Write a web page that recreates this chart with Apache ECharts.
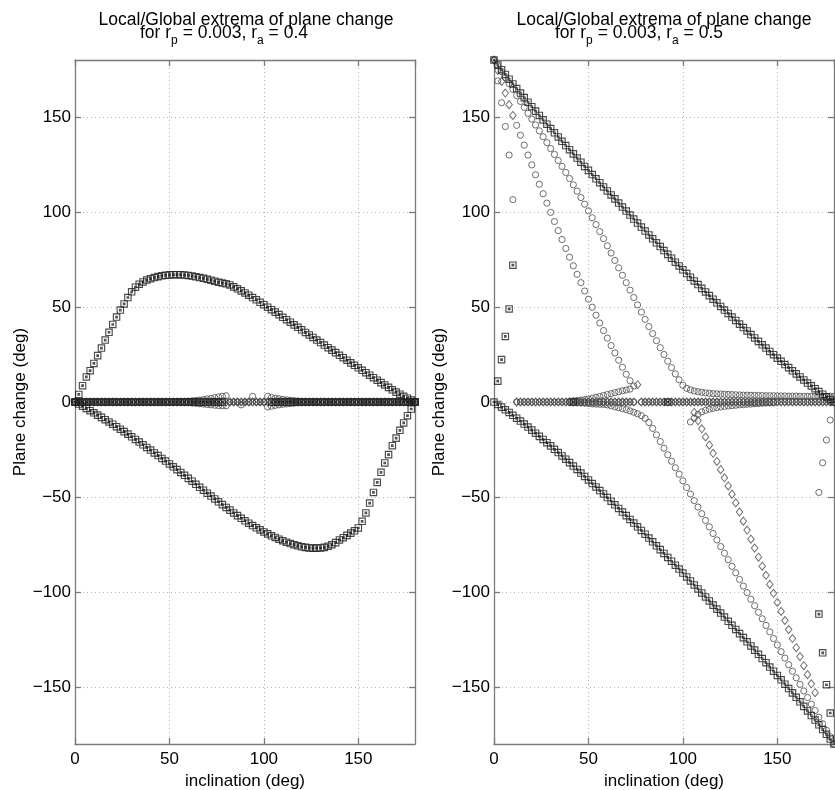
<!DOCTYPE html>
<html><head><meta charset="utf-8">
<script src="https://cdn.jsdelivr.net/npm/echarts@6/dist/echarts.min.js"></script>
<style>html,body{margin:0;padding:0;background:#fff}#c{width:835px;height:790px}</style>
</head><body><div id="c"></div>
<script>
// ---------- shared inclination grid (deg) ----------
const inclination = [0,2,4,6,8,10,12,14,16,18,20,22,24,26,28,30,32,34,36,38,40,42,44,46,48,50,52,54,56,58,60,62,64,66,68,70,72,74,76,78,80,82,84,86,88,90,92,94,96,98,100,102,104,106,108,110,112,114,116,118,120,122,124,126,128,130,132,134,136,138,140,142,144,146,148,150,152,154,156,158,160,162,164,166,168,170,172,174,176,178,180];

// ---------- left panel (r_a = 0.4) ----------
const leftGlobalMax = [0,4,8.6,13.2,16.5,20.3,24.4,28.4,32.6,36.7,40.8,44.7,48.4,51.6,55,58,60.4,62,63.2,64.2,64.9,65.5,66,66.4,66.7,66.9,67,67,67,66.8,66.6,66.3,65.9,65.5,65.1,64.6,64.1,63.6,63,62.6,62.2,61.6,60.6,59.6,58.5,57.4,56.2,55,53.8,52.5,51.2,49.9,48.6,47.3,46,44.6,43.3,42,40.6,39.3,38,36.6,35.3,34,32.6,31.3,30,28.6,27.3,26,24.6,23.3,22,20.6,19.3,18,16.7,15.4,14.1,12.8,11.5,10.2,9,7.7,6.4,5.2,4.1,3,2,1,0];
const leftGlobalMin = [0,-1.1,-2.2,-3.4,-4.6,-5.7,-6.9,-8.1,-9.3,-10.5,-11.7,-13,-14.3,-15.6,-16.9,-18.3,-19.7,-21.1,-22.5,-23.9,-25.3,-26.8,-28.2,-29.7,-31.1,-32.6,-34.1,-35.6,-37.1,-38.6,-40.2,-41.7,-43.3,-44.9,-46.4,-48,-49.5,-51,-52.5,-54,-55.5,-56.9,-58.4,-59.8,-61.2,-62.5,-63.8,-65,-66.2,-67.3,-68.4,-69.4,-70.4,-71.3,-72.2,-73,-73.8,-74.5,-75.1,-75.7,-76.2,-76.5,-76.8,-76.9,-76.9,-76.8,-76.5,-75.9,-75.1,-74,-72.6,-71.4,-70.2,-69,-67.8,-66.3,-62.8,-58.4,-53.2,-47.6,-42.3,-37,-32.1,-27.7,-23,-19,-14.9,-11,-7.2,-3.7,0];
const leftLocalUpper = [0,0,0,0,0,0,0,0,0,0, 0,0,0,0,0,0,0,0,0,0, 0,0,0,0,0,0,0,0,0,0.2, 0.4,0.6,0.8,1.0,1.3,1.6,1.9,2.3,2.7,3.0, 3.3,0,0,0,0,0,0,3.0,0,0, 0,3.0,2.4,2.0,1.7,1.4,1.1,0.9,0.7,0.5, 0.3,0.2,0,0,0,0,0,0,0,0, 0,0,0,0,0,0,0,0,0,0, 0,0,0,0,0,0,0,0,0,0,0];
const leftLocalLower = [0,0,0,0,0,0,0,0,0,0, 0,0,0,0,0,0,0,0,0,0, 0,0,0,0,0,0,0,0,0,-0.2, -0.3,-0.5,-0.7,-0.9,-1.1,-1.3,-1.5,-1.7,-1.9,-2.0, -2.0,0,0,0,-1.5,0,0,0,0,0, 0,-2.6,-2.2,-1.8,-1.5,-1.2,-1.0,-0.8,-0.6,-0.4, -0.3,-0.2,0,0,0,0,0,0,0,0, 0,0,0,0,0,0,0,0,0,0, 0,0,0,0,0,0,0,0,0,0,0];
const leftZeroSquareX = [0,2,4,6,8,10,12,14,16,18,20,22,24,26,28,30,32,34,36,38,40,42,44,46,48,50,52,54,56,58,60,62,64,66,68,70,72,74,76,78,104,106,108,110,112,114,116,118,120,122,124,126,128,130,132,134,136,138,140,142,144,146,148,150,152,154,156,158,160,162,164,166,168,170,172,174,176,178,180];
const zeroLevel = 0;

// ---------- right panel (r_a = 0.5) ----------
const rightGlobalMax = [180,177.4,174.9,172.4,169.9,167.4,165,162.6,160.2,157.8,155.4,153.1,150.8,148.5,146.2,143.9,141.7,139.5,137.2,135,132.8,130.6,128.4,126.2,124,121.9,119.7,117.5,115.4,113.2,111.1,109,106.9,104.7,102.6,100.5,98.4,96.3,94.2,92.1,90,87.9,85.9,83.8,81.8,79.7,77.7,75.7,73.6,71.6,69.6,67.6,65.7,63.7,61.8,59.8,57.9,56,54.1,52.2,50.3,48.4,46.6,44.7,42.9,41,39.2,37.4,35.5,33.7,31.9,30.1,28.4,26.6,24.9,23.1,21.4,19.7,18.1,16.4,14.8,13.2,11.6,10,8.5,7,5.5,4.1,2.7,1.3,0];
const rightGlobalMin = [0,-1.3,-2.7,-4.1,-5.5,-7,-8.5,-10,-11.6,-13.2,-14.8,-16.4,-18.1,-19.7,-21.4,-23.1,-24.9,-26.6,-28.4,-30.1,-31.9,-33.7,-35.5,-37.4,-39.2,-41,-42.9,-44.7,-46.6,-48.4,-50.3,-52.2,-54.1,-56,-57.9,-59.8,-61.8,-63.7,-65.7,-67.6,-69.6,-71.6,-73.6,-75.7,-77.7,-79.7,-81.8,-83.8,-85.9,-87.9,-90,-92.1,-94.2,-96.3,-98.4,-100.5,-102.6,-104.7,-106.9,-109,-111.1,-113.2,-115.4,-117.5,-119.7,-121.9,-124,-126.2,-128.4,-130.6,-132.8,-135,-137.2,-139.5,-141.7,-143.9,-146.2,-148.5,-150.8,-153.1,-155.4,-157.8,-160.2,-162.6,-165,-167.4,-169.9,-172.4,-174.9,-177.4,-180];
const rightLocalB = [180,177,173.9,170.8,167.6,164.5,161.3,158.2,155.1,152,148.9,145.8,142.7,139.6,136.5,133.4,130.3,127.1,124,120.8,117.6,114.3,111,107.6,104.1,100.6,97,93.4,89.7,86,82.2,78.4,74.5,70.6,66.7,62.8,58.9,55,51.1,47.3,43.5,39.7,36,32.3,28.6,25,21.5,18.1,14.8,11.7,8.8,7.2,6.4,5.8,5.4,5.1,4.8,4.6,4.4,4.3,4.2,4.1,4.0,3.9,3.8,3.7,3.6,3.6,3.5,3.5,3.4,3.4,3.3,3.3,3.3,3.2,3.2,3.2,3.1,3.1,3.1,3.0,3.0,3.0,3.0,3.0,3.0,3.0,3.0,3.0,3.0];
const rightLocalB2X = [40,42,44,46,48,50,52,54,56,58,60,62,64,66,68,70,72,74,76,78,80,82,84,86,88,90,92,94,96,98,100,102,104,106,108,110,112,114,116,118,120,122,124,126,128,130,132,134,136,138,140,142,144,146,148,150,152,154,156,158,160,162,164,166,168,170,172,174,176,178,180];
const rightLocalB2 = [-0.2,-0.3,-0.4,-0.5,-0.6,-0.8,-1.0,-1.1,-1.2,-1.3,-1.5,-2.0,-2.5,-3.0,-3.5,-4.0,-4.7,-5.4,-6.2,-7.2,-8.6,-10.8,-13.9,-17.3,-20.8,-24.3,-27.8,-31.2,-34.6,-38,-41.5,-45,-48.4,-51.9,-55.3,-58.8,-62.3,-65.7,-69.2,-72.6,-76.1,-79.6,-83,-86.5,-89.9,-93.4,-96.9,-100.3,-103.8,-107.2,-110.7,-114.1,-117.6,-121,-124.5,-127.9,-131.4,-134.8,-138.3,-141.7,-145.2,-148.6,-152.1,-155.5,-159,-162.4,-165.9,-169.3,-172.8,-176.2,-180];
const rightForkUpX = [40,42,44,46,48,50,52,54,56,58,60,62,64,66,68,70,72];
const rightForkUp = [0.4,0.6,0.8,1.0,1.3,1.6,2.0,2.4,2.9,3.4,3.9,4.4,4.9,5.4,5.9,6.3,6.8];
const rightForkLoX = [104,106,108,110,112,114,116,118,120,122,124,126,128,130,132,134,136,138,140,142,144,146,148];
const rightForkLo = [-10.5,-8.5,-6.5,-5.2,-4.4,-3.8,-3.3,-2.9,-2.6,-2.3,-2.1,-1.9,-1.7,-1.5,-1.4,-1.2,-1.1,-0.9,-0.8,-0.6,-0.5,-0.4,-0.3];
const rightCDiamX = [0,2,4,6,8,10,76];
const rightCDiam = [180,174.5,168.7,162.6,156.5,150.8,9.1];
const rightCCircX = [12,14,16,18,20,22,24,26,28,30,32,34,36,38,40,42,44,46,48,50,52,54,56,58,60,62,64,66,68,70,72,74];
const rightCCirc = [145.6,140.4,135.2,130,124.8,119.6,114.6,109.6,104.7,99.8,95,90.2,85.5,80.8,76.2,71.7,67.2,62.8,58.4,54.1,49.9,45.7,41.6,37.6,33.6,29.7,25.8,22,18.3,14.6,11.2,8.4];
const rightDDiamX = [106,108,110,112,114,116,118,120,122,124,126,128,130,132,134,136,138,140,142,144,146,148,150,152,154,156,158,160,162,164,166,168,170];
const rightDDiam = [-5.5,-9.8,-14.1,-18.4,-22.7,-27,-31.3,-35.6,-39.9,-44.2,-48.5,-53.1,-57.9,-62.7,-67.4,-72.2,-76.9,-81.7,-86.4,-91.2,-96,-100.7,-105.5,-110.2,-115,-119.8,-124.5,-129.3,-134,-138.8,-143.5,-148.3,-153];
const rightACircX = [2,4,6,8,10,172,174,176,178];
const rightACirc = [169,157.5,145,130,106.5,-47.6,-32,-20,-9.5];
const rightSqX = [2,4,6,8,10,172,174,176,178,42,92];
const rightSq = [11,22.3,34.5,49,72,-111.6,-132,-148.8,-163.7,0,0];
const rightZeroX = [12,14,16,18,20,22,24,26,28,30,32,34,36,38,40,42,44,46,48,50,52,54,56,58,60,62,64,66,68,70,72,74,78,80,82,84,86,88,90,92,94,96,98,100,102,104,106,108,110,112,114,116,118,120,122,124,126,128,130,132,134,136,138,140,142,144,146,148,150,152,154,156,158,160,162,164,166,168,170,172,174,176,178,180];

// ---------- axis ticks / text ----------
const yTicks = [-150, -100, -50, 0, 50, 100, 150];
const titleLine1 = 'Local/Global extrema of plane change';
const titleParts = ['for r', 'p', ' = 0.003, r', 'a', ' = '];
const raValues = ['0.4', '0.5'];

// ---------- helpers ----------
function pts(xs, ys) { const o = []; for (let i = 0; i < xs.length; i++) if (ys[i] != null) o.push([xs[i], ys[i]]); return o; }
function lvl(xs, v) { return xs.map(x => [x, v]); }

const FONT = '"Liberation Sans", Arial, Helvetica, sans-serif';
const FS = 17, TFS = 17.5, SFS = 12;
const AX = '#7a7a7a';
const SQ = 'path://M0,0L10,0L10,10L0,10Z M3.8,3.8L6.2,3.8L6.2,6.2L3.8,6.2Z';
const clear = 'rgba(0,0,0,0)';

const measCtx = document.createElement('canvas').getContext('2d');
function tw(t, size) { measCtx.font = size + 'px ' + FONT; return measCtx.measureText(t).width; }

function mk(kind, g, data) {
  const s = { type: 'scatter', xAxisIndex: g * 2, yAxisIndex: g * 2, data: data, silent: true, animation: false,
    itemStyle: { color: clear, borderColor: '#444', borderWidth: 1 } };
  if (kind === 'sq') { s.symbol = SQ; s.symbolSize = 6.4; s.itemStyle.borderColor = '#1e1e1e'; s.itemStyle.borderWidth = 1.15; }
  else if (kind === 'ci') { s.symbol = 'circle'; s.symbolSize = 6.2; s.itemStyle.borderColor = '#4a4a4a'; }
  else { s.symbol = 'diamond'; s.symbolSize = [6.5, 8]; s.itemStyle.borderColor = '#4a4a4a'; }
  return s;
}

function yFmt(v) { return v < 0 ? '\u2212' + (-v) : String(v); }

function xAx(g, top) {
  return { type: 'value', gridIndex: g, min: 0, max: 180, interval: 50, position: top ? 'top' : 'bottom',
    axisLine: { show: true, onZero: false, lineStyle: { color: AX, width: 1.3 } },
    axisTick: { show: true, inside: true, length: 6, lineStyle: { color: AX, width: 1.3 } },
    axisLabel: { show: !top, color: '#000', fontSize: FS, fontFamily: FONT, margin: 7, showMaxLabel: false },
    splitLine: { show: !top, lineStyle: { color: '#b4b4b4', type: [1, 3], width: 1 } },
    name: top ? '' : 'inclination (deg)', nameLocation: 'middle', nameGap: 27,
    nameTextStyle: { color: '#000', fontSize: FS, fontFamily: FONT } };
}
function yAx(g, right) {
  return { type: 'value', gridIndex: g, min: -180, max: 180, position: right ? 'right' : 'left',
    axisLine: { show: true, onZero: false, lineStyle: { color: AX, width: 1.3 } },
    axisTick: { show: true, inside: true, length: 6, customValues: yTicks, lineStyle: { color: AX, width: 1.3 } },
    axisLabel: { show: !right, customValues: yTicks, color: '#000', fontSize: FS, fontFamily: FONT, margin: 4, formatter: yFmt },
    splitLine: { show: !right, customValues: yTicks, lineStyle: { color: '#b4b4b4', type: [1, 3], width: 1 } },
    name: right ? '' : 'Plane change (deg)', nameLocation: 'middle', nameGap: 46,
    nameTextStyle: { color: '#000', fontSize: FS, fontFamily: FONT } };
}

function txt(x, y, t, size, align) {
  return { type: 'text', x: x, y: y, silent: true,
    style: { text: t, fill: '#000', fontSize: size, fontFamily: FONT, align: align || 'left', verticalAlign: 'top' } };
}
function titleEls(cx, lx, ra) {
  const els = [txt(cx, 11, titleLine1, TFS, 'center')];
  const parts = titleParts.concat([ra]);
  let x = lx;
  parts.forEach((p, i) => {
    const sub = (i === 1 || i === 3);
    els.push(txt(x, sub ? 35 : 24, p, sub ? SFS : TFS));
    x += tw(p, sub ? SFS : TFS);
  });
  return els;
}

const chart = echarts.init(document.getElementById('c'), null, { renderer: 'canvas' });
chart.setOption({
  backgroundColor: '#fff',
  animation: false,
  grid: [
    { left: 75, top: 60, width: 340, height: 684, outerBoundsMode: 'none' },
    { left: 494, top: 60, width: 340, height: 684, outerBoundsMode: 'none' }
  ],
  xAxis: [xAx(0, false), xAx(0, true), xAx(1, false), xAx(1, true)],
  yAxis: [yAx(0, false), yAx(0, true), yAx(1, false), yAx(1, true)],
  graphic: titleEls(246, 140, raValues[0]).concat(titleEls(664, 555, raValues[1])),
  series: [
    // left
    mk('di', 0, lvl(inclination, zeroLevel)),
    mk('ci', 0, pts(inclination, leftLocalUpper)),
    mk('ci', 0, pts(inclination, leftLocalLower)),
    mk('sq', 0, lvl(leftZeroSquareX, zeroLevel)),
    mk('sq', 0, pts(inclination, leftGlobalMax)),
    mk('sq', 0, pts(inclination, leftGlobalMin)),
    // right
    mk('ci', 1, lvl(rightZeroX, zeroLevel)),
    mk('di', 1, lvl(rightZeroX, zeroLevel)),
    mk('ci', 1, pts(inclination, rightLocalB)),
    mk('ci', 1, pts(rightLocalB2X, rightLocalB2)),
    mk('ci', 1, pts(rightForkUpX, rightForkUp)),
    mk('ci', 1, pts(rightForkLoX, rightForkLo)),
    mk('ci', 1, pts(rightCCircX, rightCCirc)),
    mk('di', 1, pts(rightCDiamX, rightCDiam)),
    mk('di', 1, pts(rightDDiamX, rightDDiam)),
    mk('ci', 1, pts(rightACircX, rightACirc)),
    mk('sq', 1, pts(rightSqX, rightSq)),
    mk('sq', 1, pts(inclination, rightGlobalMax)),
    mk('sq', 1, pts(inclination, rightGlobalMin))
  ]
});
</script></body></html>
